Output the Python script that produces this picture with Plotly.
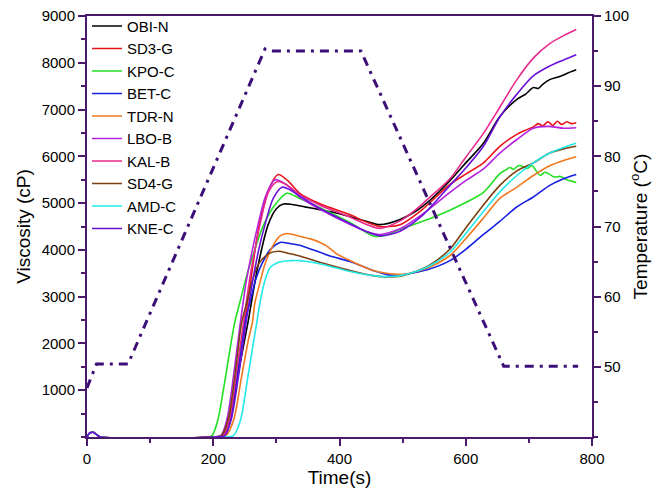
import plotly.graph_objects as go

# ---- Temperature profile (right axis) ----
TIME_T = [0, 15, 65, 282, 292, 434, 660, 778]
TEMP = [47.0, 50.4, 50.4, 95.3, 95.0, 95.0, 50.1, 50.1]

# ---- Viscosity series (left axis) ----
NAMES = ["OBI-N", "SD3-G", "KPO-C", "BET-C", "TDR-N", "LBO-B", "KAL-B", "SD4-G", "AMD-C", "KNE-C"]
COLORS = ["#000000", "#E8141C", "#22E022", "#1520E0", "#F07820", "#B423E0", "#E8288C", "#7B3F10", "#22E8E8", "#6A10D8"]

TIME_OBI = [0,4,10,16,22,200,213,225,240,255,270,287,300,311,325,345,369,395,417,440,464,496,520,545,575,600,628,654,681,695,707,715,722,733,745,755,765,775]
VISC_OBI = [0,80,100,40,0,0,30,400,1400,2450,3600,4540,4880,4980,4970,4920,4860,4790,4710,4620,4540,4650,4820,5080,5480,5860,6280,6850,7220,7330,7470,7450,7540,7640,7690,7740,7800,7850]

TIME_SD3 = [0,4,10,16,22,200,215,228,240,250,262,273,288,303,318,337,370,417,445,464,496,530,575,600,628,654,681,695,707,715,722,730,738,745,752,760,767,775]
VISC_SD3 = [0,80,100,40,0,0,30,500,1500,2450,3600,4540,5300,5610,5480,5210,4980,4750,4580,4500,4540,4850,5400,5620,5860,6215,6470,6560,6630,6700,6650,6740,6660,6750,6680,6740,6700,6720]

TIME_KPO = [0,4,10,16,22,188,198,207,216,225,234,242,252,262,280,300,317,337,369,417,455,475,496,548,601,628,654,662,670,676,683,690,697,705,712,718,725,732,740,750,760,768,775]
VISC_KPO = [0,80,100,40,0,0,30,350,1000,1750,2450,2870,3400,3850,4540,5000,5210,5100,4900,4580,4290,4320,4440,4690,5020,5230,5630,5700,5760,5720,5800,5790,5740,5800,5680,5590,5660,5620,5560,5570,5500,5470,5440]

TIME_BET = [0,4,10,16,22,200,218,228,240,250,258,268,277,290,306,320,337,385,417,453,480,500,540,575,600,628,654,681,707,733,755,775]
VISC_BET = [0,80,100,40,0,0,30,400,1500,2450,2870,3400,3700,4000,4160,4140,4100,3870,3750,3560,3460,3470,3580,3770,4010,4330,4610,4920,5130,5380,5520,5610]

TIME_TDR = [0,4,10,16,22,205,220,232,245,256,262,266,274,282,295,306,317,337,355,369,380,395,417,453,475,500,540,575,600,628,654,681,707,733,755,775]
VISC_TDR = [0,80,100,40,0,0,30,350,1300,2100,2450,2870,3300,3700,4100,4300,4350,4290,4230,4160,4080,3920,3770,3560,3500,3480,3620,3880,4240,4680,5100,5340,5590,5800,5910,5990]

TIME_LBO = [0,4,10,16,22,195,212,222,233,243,252,262,271,283,298,315,337,370,417,445,464,496,530,575,600,628,654,681,707,730,755,775]
VISC_LBO = [0,80,100,40,0,0,30,400,1400,2450,3300,4000,4540,5150,5500,5400,5130,4860,4540,4380,4330,4450,4750,5230,5480,5730,6070,6360,6600,6640,6600,6610]

TIME_KAL = [0,4,10,16,22,200,216,226,237,248,258,266,274,288,302,318,337,370,417,445,464,496,520,545,575,600,628,654,681,707,733,755,775]
VISC_KAL = [0,80,100,40,0,0,30,400,1400,2450,3400,4000,4540,5250,5460,5380,5180,4950,4700,4530,4460,4620,4850,5150,5520,5980,6490,7050,7640,8100,8410,8580,8710]

TIME_SD4 = [0,4,10,16,22,195,213,224,235,245,253,262,272,288,303,318,337,370,417,453,475,500,540,575,600,628,654,681,707,733,755,775]
VISC_SD4 = [0,80,100,40,0,0,30,400,1400,2450,2870,3350,3700,3920,3970,3930,3870,3730,3560,3450,3420,3450,3650,4020,4470,4960,5380,5690,5860,6070,6160,6215]

TIME_AMD = [0,4,10,16,22,215,232,243,255,264,269,274,282,290,305,322,337,370,417,460,480,500,540,575,600,628,654,681,707,733,755,775]
VISC_AMD = [0,80,100,40,0,0,30,350,1300,2050,2450,2870,3350,3620,3740,3770,3770,3700,3540,3440,3430,3460,3640,3950,4350,4820,5240,5590,5860,6070,6190,6280]

TIME_KNE = [0,4,10,16,22,200,218,228,240,252,262,272,282,295,309,322,337,370,417,445,464,496,530,575,600,628,654,681,707,733,755,775]
VISC_KNE = [0,80,100,40,0,0,30,350,1300,2450,3300,4000,4540,5100,5340,5280,5150,4880,4560,4380,4300,4400,4720,5380,5750,6215,6840,7330,7720,7930,8060,8170]

TIMES = [TIME_OBI, TIME_SD3, TIME_KPO, TIME_BET, TIME_TDR, TIME_LBO, TIME_KAL, TIME_SD4, TIME_AMD, TIME_KNE]
VISCS = [VISC_OBI, VISC_SD3, VISC_KPO, VISC_BET, VISC_TDR, VISC_LBO, VISC_KAL, VISC_SD4, VISC_AMD, VISC_KNE]

X_TICKS = [0, 200, 400, 600, 800]
Y_TICKS = [1000, 2000, 3000, 4000, 5000, 6000, 7000, 8000, 9000]
Y2_TICKS = [50, 60, 70, 80, 90, 100]

AXIS_COLOR = "#4B1A6B"
FONT = "Liberation Sans, Arial, sans-serif"

fig = go.Figure()

for name, color, t, v in zip(NAMES, COLORS, TIMES, VISCS):
    fig.add_trace(go.Scatter(
        x=t, y=v, mode="lines", name=name,
        line=dict(color=color, width=1.6, shape="spline", smoothing=0.8),
        yaxis="y",
    ))

fig.add_trace(go.Scatter(
    x=TIME_T, y=TEMP, mode="lines", name="Temperature", showlegend=False,
    line=dict(color="#3C0F78", width=3, dash="9px,6px,3px,6px"),
    yaxis="y2",
))

fig.update_layout(
    width=664, height=492,
    margin=dict(l=87, r=72, t=7, b=55),
    paper_bgcolor="white", plot_bgcolor="white",
    font=dict(family=FONT, size=15, color="#000000"),
    showlegend=True,
    legend=dict(
        x=0.0, y=1.015, xanchor="left", yanchor="top",
        bgcolor="rgba(0,0,0,0)", borderwidth=0,
        font=dict(family=FONT, size=15),
        itemwidth=30, tracegroupgap=0,
    ),
    xaxis=dict(
        range=[0, 800], tickvals=X_TICKS, ticks="outside", ticklen=7, tickwidth=1.5,
        tickcolor=AXIS_COLOR, showline=True, linecolor=AXIS_COLOR, linewidth=2,
        mirror=True, showgrid=False, zeroline=False,
        minor=dict(dtick=100, tick0=0, ticks="outside", ticklen=4, tickcolor=AXIS_COLOR, tickwidth=1.5),
        title=dict(text="Time(s)", font=dict(size=19), standoff=4),
        tickfont=dict(size=15),
    ),
    yaxis=dict(
        range=[0, 9000], tickvals=Y_TICKS, ticks="outside", ticklen=7, tickwidth=1.5,
        tickcolor=AXIS_COLOR, showline=True, linecolor=AXIS_COLOR, linewidth=2,
        showgrid=False, zeroline=False,
        minor=dict(dtick=500, tick0=0, ticks="outside", ticklen=4, tickcolor=AXIS_COLOR, tickwidth=1.5),
        title=dict(text="Viscosity (cP)", font=dict(size=19), standoff=6),
        tickfont=dict(size=15),
    ),
    yaxis2=dict(
        range=[40, 100], tickvals=Y2_TICKS, overlaying="y", side="right",
        ticks="outside", ticklen=7, tickwidth=1.5, tickcolor=AXIS_COLOR,
        showline=True, linecolor=AXIS_COLOR, linewidth=2,
        showgrid=False, zeroline=False,
        minor=dict(dtick=5, tick0=40, ticks="outside", ticklen=4, tickcolor=AXIS_COLOR, tickwidth=1.5),
        title=dict(text="Temperature (<sup>o</sup>C)", font=dict(size=19), standoff=6),
        tickfont=dict(size=15),
    ),
)

fig.write_html("out.html")
